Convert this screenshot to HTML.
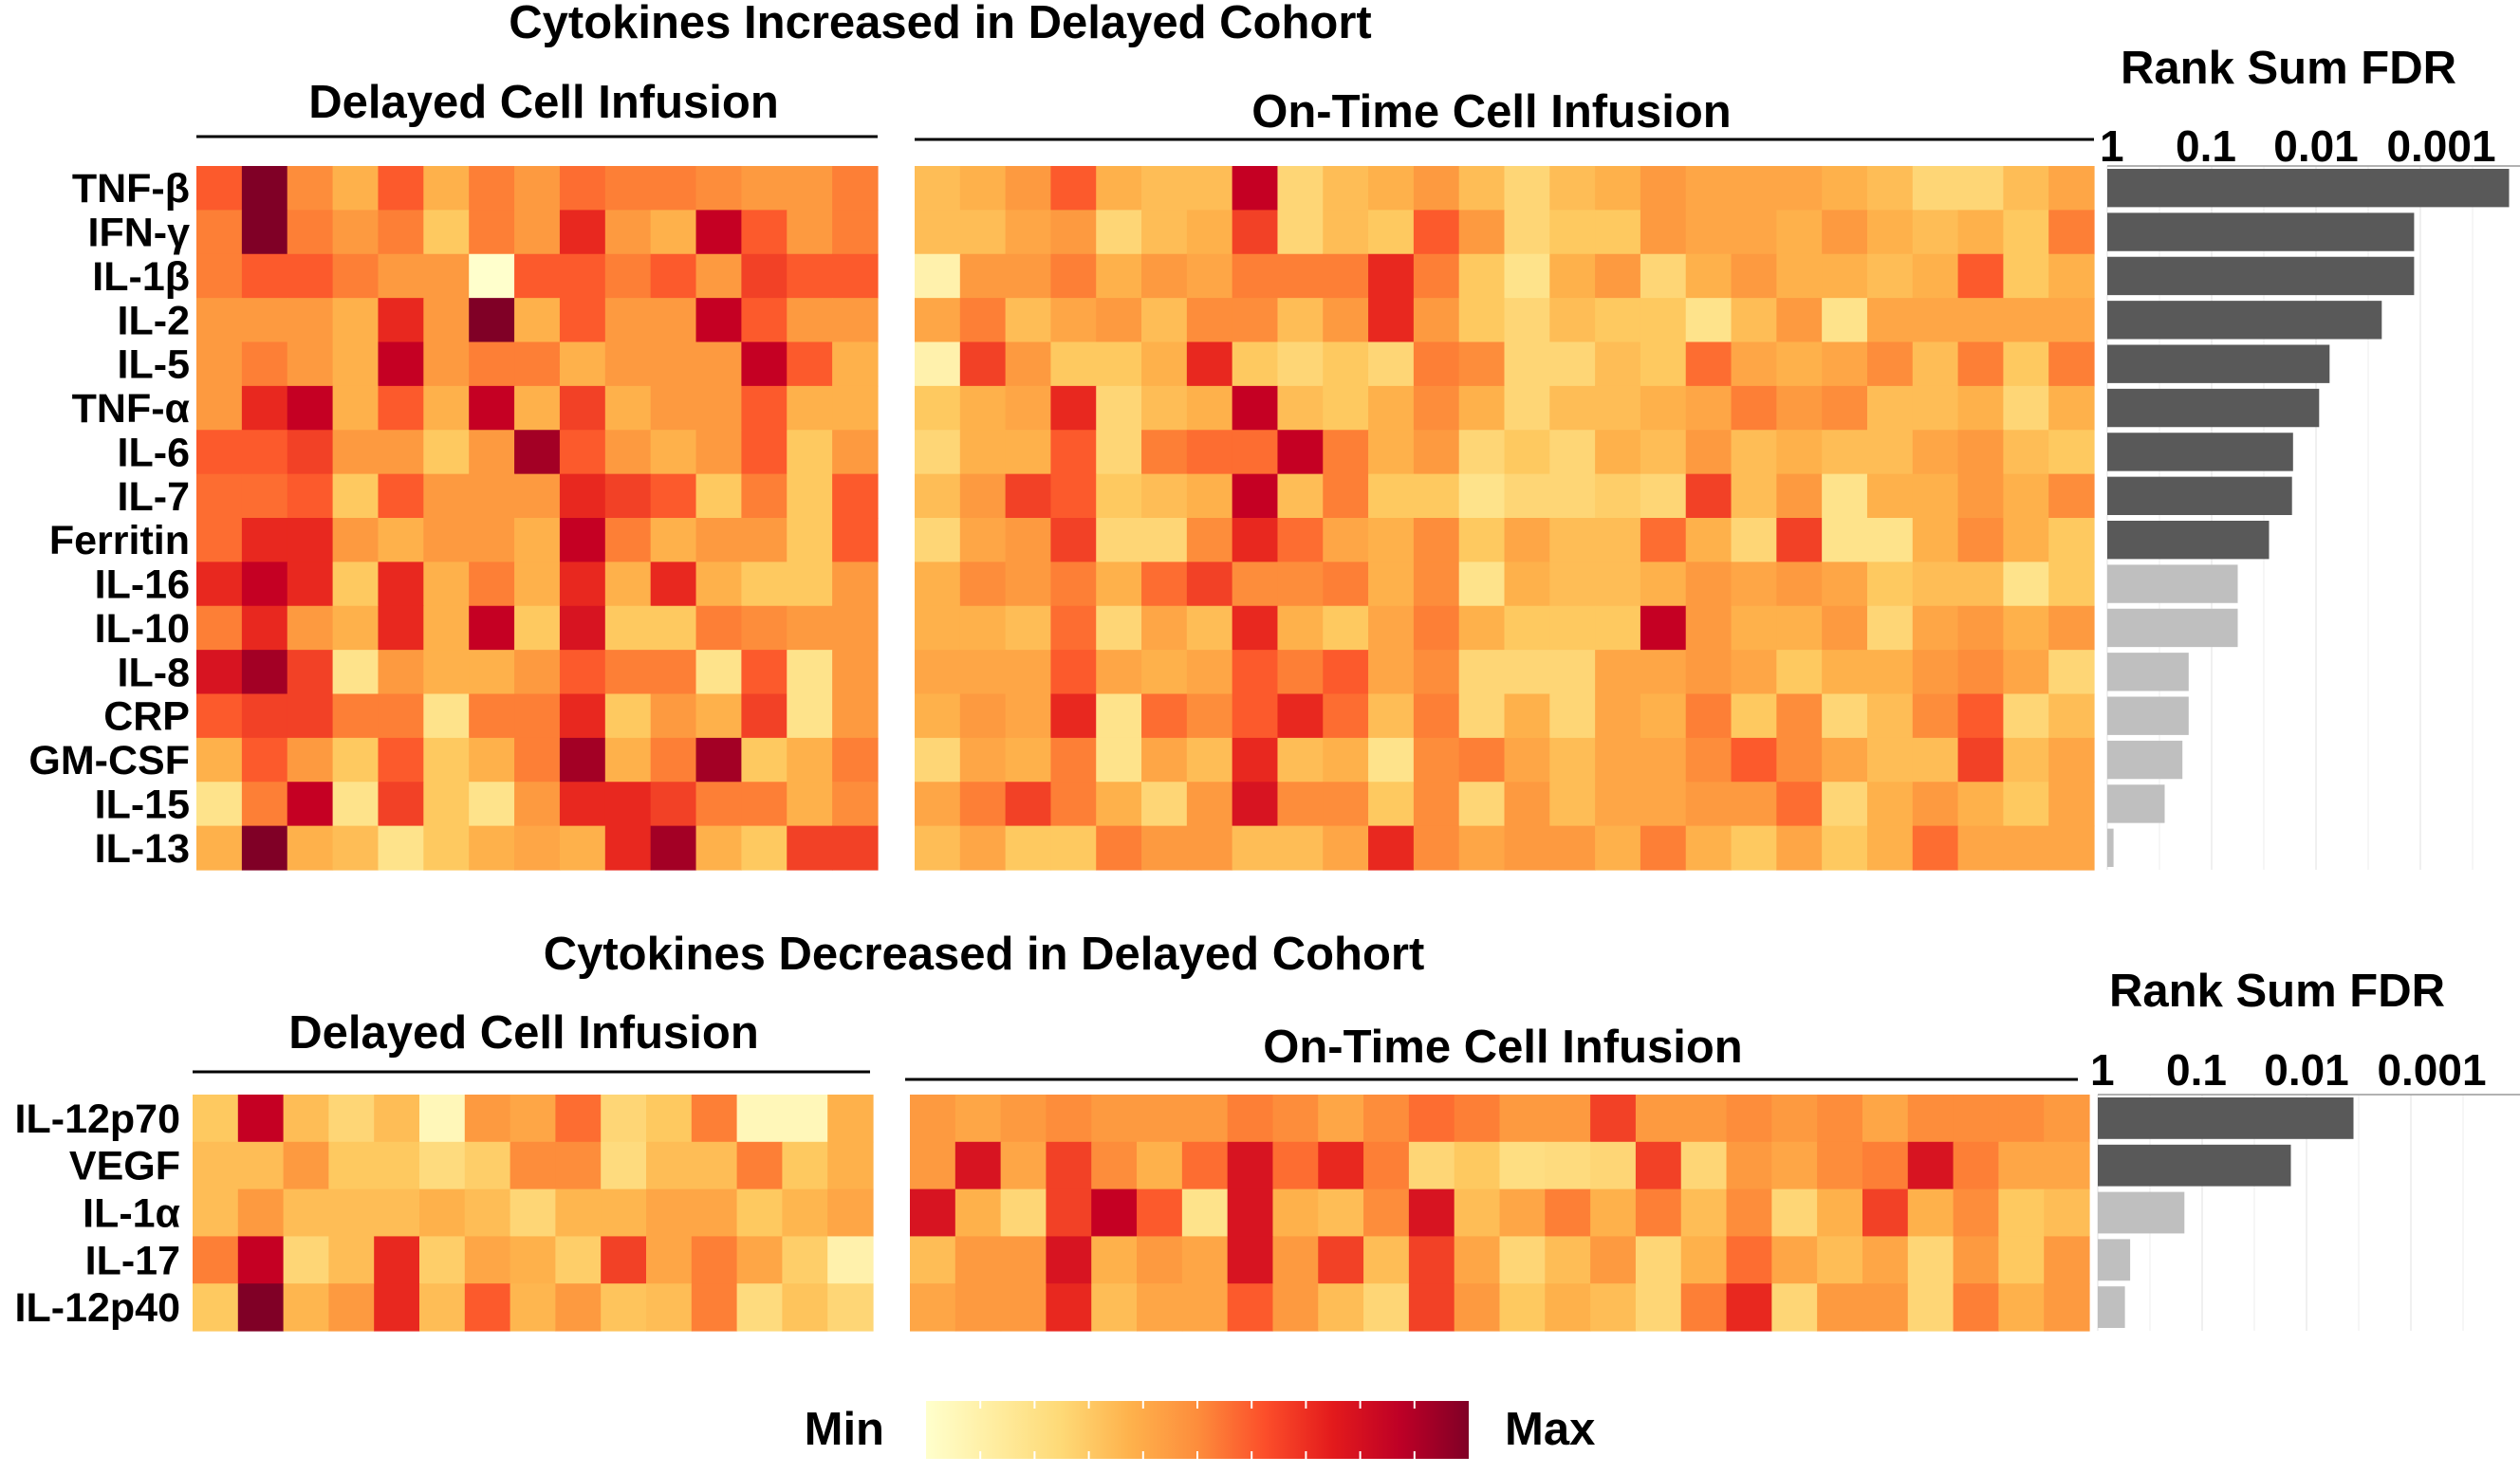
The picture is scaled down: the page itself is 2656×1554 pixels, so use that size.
<!DOCTYPE html>
<html><head><meta charset="utf-8"><style>
html,body{margin:0;padding:0;background:#fff;}
svg{display:block;font-family:"Liberation Sans",Arial,sans-serif;font-weight:bold;}
</style></head><body>
<svg id="fig" width="2656" height="1554" viewBox="0 0 2656 1554" xmlns="http://www.w3.org/2000/svg">
<text x="991" y="40" font-size="49" text-anchor="middle">Cytokines Increased in Delayed Cohort</text>
<text x="573" y="124" font-size="49" text-anchor="middle">Delayed Cell Infusion</text>
<line x1="207" y1="144" x2="925" y2="144" stroke="#000" stroke-width="3"/>
<text x="1572" y="134" font-size="49" text-anchor="middle">On-Time Cell Infusion</text>
<line x1="964" y1="147" x2="2207" y2="147" stroke="#000" stroke-width="3"/>
<text x="2412" y="88" font-size="49" text-anchor="middle">Rank Sum FDR</text>
<text x="1037" y="1022" font-size="49" text-anchor="middle">Cytokines Decreased in Delayed Cohort</text>
<text x="552" y="1105" font-size="49" text-anchor="middle">Delayed Cell Infusion</text>
<line x1="203" y1="1130" x2="917" y2="1130" stroke="#000" stroke-width="3"/>
<text x="1584" y="1120" font-size="49" text-anchor="middle">On-Time Cell Infusion</text>
<line x1="954" y1="1138" x2="2190" y2="1138" stroke="#000" stroke-width="3"/>
<text x="2400" y="1061" font-size="49" text-anchor="middle">Rank Sum FDR</text>
<defs><linearGradient id="cbar" x1="0" x2="1" y1="0" y2="0">
<stop offset="0" stop-color="#ffffcc"/><stop offset="0.125" stop-color="#ffeda0"/><stop offset="0.25" stop-color="#fed976"/><stop offset="0.375" stop-color="#feb24c"/><stop offset="0.5" stop-color="#fd8d3c"/><stop offset="0.625" stop-color="#fc4e2a"/><stop offset="0.75" stop-color="#e31a1c"/><stop offset="0.875" stop-color="#bd0026"/><stop offset="1" stop-color="#800026"/>
</linearGradient></defs>
<rect x="976" y="1477" width="572" height="61" fill="url(#cbar)"/>
<text x="932" y="1523" font-size="49" text-anchor="end">Min</text>
<text x="1586" y="1523" font-size="49">Max</text>
<g id="layer"></g>
</svg>
<script>
const ns="http://www.w3.org/2000/svg";
const layer=document.getElementById('layer');
const topLabels=["TNF-β","IFN-γ","IL-1β","IL-2","IL-5","TNF-α","IL-6","IL-7","Ferritin","IL-16","IL-10","IL-8","CRP","GM-CSF","IL-15","IL-13"];
const botLabels=["IL-12p70","VEGF","IL-1α","IL-17","IL-12p40"];
const topDelayed=[
[6,9,4.5,3,6,3,5,4,5.5,5,5,4.5,4,4,5],
[5,9,5,4,5,2,5,4,7,4,3,8,6,4,5],
[5,6,6,5,4,4,0,6,6,5,6,4,6.5,6,6],
[4,4,4,3,7,4,9,3,6,4,4,8,6,4,4],
[4,5,4,3,8,4,5,5,3,4,4,4,8,6,3],
[4,7,8,3,6,3,8,3,6.5,3,4,4,6,3,3],
[6,6,6.5,4,4,2,4,8.5,6,4,3,4,6,2,4],
[5.5,5.5,6,2,6,4,4,4,7,6.5,6,2,5,2,6],
[5.5,7,7,4,3,4,4,3,8,5,3,4,4,2,6],
[7,8,7,2,7,3,5,3,7,3,7,3,2,2,4],
[5,7,4,3,7,3,8,2,7.5,2,2,5,4.5,4,4],
[7.5,8.5,6.5,1,4,3,3,4,6,5,5,1,6,1,4],
[6,6.5,6.5,5,5,1,5,5,7,2,4,3,6.5,1,4],
[3,6,4,2,6,2,3,5,8.5,3,5,8.5,2,3,5],
[1,5,8,1,6.5,2,1,4,7,7,6.5,5,5,3,4.5],
[3,9,3,2.5,1,2,3,3.5,3,7,8.5,3,2,6.5,6.5]];
const topOnTime=[
[2.5,3,4,6,3,2.5,2.5,8,1.5,2.5,3,4,2.5,1.5,2.5,3,4,3.5,3.5,3.5,3,2.5,1.5,1.5,2.5,3.5],
[2.5,2.5,3.5,4,1.5,2.5,3,6.5,1.5,2.5,2,6,4,1.5,2,2,4,3.5,3.5,3,4,3,2.5,3,2,5],
[0.5,4,4,5,3,4,3.5,5,5,5,7,5,2,1,3,4,1.5,3,4,3,3,2.5,3,6,2,3],
[3.5,5,2.5,3.5,4,2.5,4.5,4.5,2.5,4,7,4,2,1.5,2.5,2,2,1,2.5,4,1,3.5,3.5,3.5,3.5,3.5],
[0.5,6.5,4,2,2,3,7,2,1.5,2,1.5,5,4.5,1.5,1.5,2.5,2,5.5,3.5,3,3.5,4.5,2.5,5,2,5],
[2,3,3.5,7,1.5,2.5,3,8,2.5,2,3,4.5,3,1.5,2.5,2.5,3,3.5,5,4,4.5,2.5,2.5,3,1.5,3],
[1.5,3,3,6,1.5,5,5.5,5.5,8,5,3,4,1.5,2,1.5,3,2.5,4,2.5,3,2.5,2.5,3.5,4,2.5,2],
[2.5,4,6.5,6,2,2.5,3,8,2.5,5,2,2,1,1.5,1.5,1.8,1.5,6.5,2.5,4,1,3,3,4,3,4.5],
[1.5,3.5,4,6.5,1.5,1.5,4.5,7,5.5,3.5,3,4.5,2,3.5,2.5,2.5,5.5,3,1.5,6.5,1,1,3,4.5,3,2],
[3,4.5,4,5,3,5.5,6.5,4.5,4.5,5,3,4.5,1,3,2.5,2.5,3,4,3.5,4,3.5,2,2.5,2.5,1,2],
[3,3,2.5,5.5,1.5,3.5,2.5,7,3,2,3.5,5,3,2,2,2,8,4,3,3,4,1.5,3.5,4,3,4],
[3.5,3.5,3.5,6,3.5,3,3.5,6,5,6,3.5,4.5,1.5,1.5,1.5,3.5,3.5,4,3.5,2,3,3,4,4.5,3.5,1.5],
[3,4,3.5,7,1,5.5,4.5,6,7,5.5,2.5,5,1.5,3,1.5,3.5,3,5,2,4.5,1.5,2.5,4.5,6,1.5,2.5],
[1.5,3.5,3,5,1,3.5,2.5,7,2.5,3,1,4.5,5,3.5,2.5,3.5,3.5,4.5,6,4.5,3.5,2.5,2.5,6.5,2.5,3.5],
[3.5,5,6.5,5,3,1.5,4,7.5,4.5,4.5,2,4.5,1.5,4,2.5,3.5,3.5,4,4,5.5,1.5,3,4,3,2,3.5],
[2.5,3.5,2,2,5,4,4,2.5,2.5,3.5,7,4.5,3.5,4,4,3,5,3,2,3.5,2,3,5.5,3.5,3.5,3.5]];
const botDelayed=[
[2,8,2.5,1.5,2.5,0.3,4,3.5,5.5,1.5,2,5,0.3,0.3,3],
[2.5,2.5,4,2,2,1.3,1.8,4.5,4.5,1.3,2.5,2.5,5,2,3],
[2.5,4,2.5,2.5,2.5,3,2.5,1.5,2.8,2.8,3.5,3.5,2,2.8,3.5],
[5,8,1.5,2.5,7,1.8,3.5,3,1.8,6.5,3.5,5,3.5,1.8,0.5],
[2,9,2.8,4,7,2.5,6,2.8,4,2.2,2.5,5,1.3,2.2,1.5]];
const botOnTime=[
[4,3.5,4,4.5,4,4,4,5,4.5,3.5,4.5,5.5,5,4,4,6.5,4,4,4.5,4,4.5,3.5,4.5,4.5,4.5,4],
[4,7.5,3.5,6.5,4.5,3,5.5,7.5,5.5,7,5,1.5,2,1.2,1.3,1.5,6.5,1.5,4,3.5,4.5,5,7.5,5,3.5,3.5],
[7.5,3,1.5,6.5,8,6,1,7.5,3,2.5,4.5,7.5,2.5,3.5,5,3,5,2.5,4.5,1.5,3,6.5,3,4.5,2,2.5],
[2.5,4,4,7.5,3,4,3.5,7.5,4,6.5,2.5,6.5,3.5,1.5,2.5,4,1.5,3,5.5,3.5,2.5,3.5,1.5,4,2,4],
[3.5,4,4,7,2.5,3.5,3.5,6,4,2.5,1.5,6.5,4,2,3,2.5,1.5,5,7,1.5,4,4,1.5,5,3,4]];
const topFdr=[3.85,2.94,2.94,2.63,2.13,2.03,1.78,1.77,1.55,1.25,1.25,0.78,0.78,0.72,0.55,0.06];
const topSig=[1,1,1,1,1,1,1,1,1,0,0,0,0,0,0,0];
const botFdr=[2.45,1.85,0.83,0.31,0.26];
const botSig=[1,1,0,0,0];
const tickLabels=["1","0.1","0.01","0.001"];

const stops=["#ffffcc","#fee38b","#fec960","#feb14b","#fd9a40","#fd7f36","#fc5a2c","#e8281f","#c50023","#800026"];
function hex(h){return [1,3,5].map(i=>parseInt(h.substr(i,2),16));}
function color(v){v=Math.max(0,Math.min(9,v));const i=Math.min(8,Math.floor(v)),f=v-i;const a=hex(stops[i]),b=hex(stops[i+1]);return 'rgb('+a.map((c,k)=>Math.round(c+(b[k]-c)*f)).join(',')+')';}
function mk(tag,attrs){const e=document.createElementNS(ns,tag);for(const k in attrs)e.setAttribute(k,attrs[k]);return e;}

function heatmap(data,x0,x1,y0,y1,name){
  const g=mk('g',{});
  
  
  const rows=data.length,cols=data[0].length,cw=(x1-x0)/cols,rh=(y1-y0)/rows;
  data.forEach((row,r)=>row.forEach((v,c)=>{
    const rc=mk('rect',{x:(x0+c*cw).toFixed(2),y:(y0+r*rh).toFixed(2),width:(cw+0.6).toFixed(2),height:(rh+0.6).toFixed(2),fill:color(v)});
    
    
    g.appendChild(rc);
  }));
  layer.appendChild(g);
}
function rowLabels(labels,xr,y0,y1,name){
  const rh=(y1-y0)/labels.length;
  labels.forEach((l,i)=>{
    const t=mk('text',{x:xr,y:(y0+(i+0.5)*rh+15).toFixed(1),'font-size':43,'text-anchor':'end'});
    t.textContent=l;
    
    
    layer.appendChild(t);
  });
}
const labelShift=[-8,-6,0,22];
function barPanel(vals,sig,x0,y0,y1,axisY,labelY,name){
  const dec=110,scale=v=>x0+v*dec;
  const g=mk('g',{});
  
  
  for(let k=0;k<=7;k++){
    const gx=scale(k/2);
    const l=mk('line',{x1:gx,x2:gx,y1:axisY,y2:y1,stroke:k%2?'#f4f4f4':'#ececec','stroke-width':1.5});
    
    
    g.appendChild(l);
  }
  const ax=mk('line',{x1:x0,x2:scale(4.1),y1:axisY,y2:axisY,stroke:'#999','stroke-width':1.5});
  
  
  g.appendChild(ax);
  tickLabels.forEach((t,i)=>{
    const tx=mk('text',{x:scale(i)+labelShift[i],y:labelY,'font-size':46,'text-anchor':i===0?'start':'middle'});
    tx.textContent=t;
    
    
    g.appendChild(tx);
  });
  const rh=(y1-y0)/vals.length;
  vals.forEach((v,i)=>{
    const b=mk('rect',{x:x0,y:(y0+i*rh+3).toFixed(2),width:Math.max(0,scale(v)-x0).toFixed(2),height:(rh-6).toFixed(2),fill:sig[i]?'#595959':'#bfbfbf'});
    
    
    g.appendChild(b);
  });
  layer.appendChild(g);
}
heatmap(topDelayed,207,925,175,917,'top-delayed-heatmap');
heatmap(topOnTime,964,2207,175,917,'top-ontime-heatmap');
heatmap(botDelayed,203,920,1154,1403,'bottom-delayed-heatmap');
heatmap(botOnTime,959,2202,1154,1403,'bottom-ontime-heatmap');
rowLabels(topLabels,200,175,917,'top-row');
rowLabels(botLabels,190,1154,1403,'bottom-row');
barPanel(topFdr,topSig,2221,175,917,175,170,'top-fdr-bars');
barPanel(botFdr,botSig,2211,1154,1403,1154,1144,'bottom-fdr-bars');
for(let k=1;k<10;k++){
  const x=976+k*57.2;
  const t1=mk('line',{x1:x,x2:x,y1:1477,y2:1485,stroke:'#fff','stroke-width':2});
  
  
  layer.appendChild(t1);
  const t2=mk('line',{x1:x,x2:x,y1:1530,y2:1538,stroke:'#fff','stroke-width':2});
  
  
  layer.appendChild(t2);
}
</script>
</body></html>
